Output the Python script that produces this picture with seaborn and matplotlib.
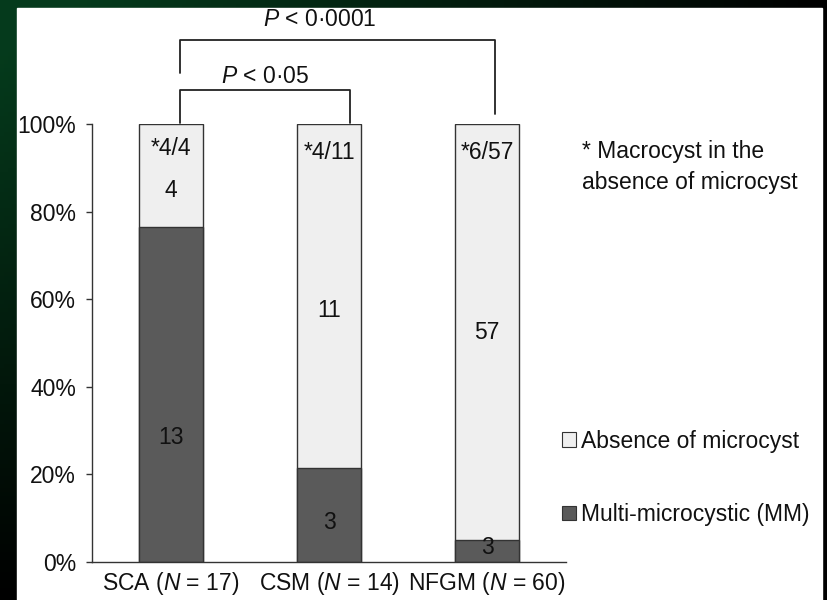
import numpy as np
import pandas as pd
import seaborn as sns
import matplotlib.pyplot as plt
from matplotlib.patches import Patch, Rectangle

# data
groups = ['SCA', 'CSM', 'NFGM']
group_n = [17, 14, 60]
mm_counts = [13, 3, 3]           # multi-microcystic
absent_counts = [4, 11, 57]      # absence of microcyst
macro_labels = ['*4/4', '*4/11', '*6/57']
tick_labels = [f'{g} ($\\it{{N}}$ = {n})' for g, n in zip(groups, group_n)]

sns.set_style('white')
plt.rcParams['font.family'] = ['Liberation Sans', 'DejaVu Sans']
plt.rcParams['mathtext.fontset'] = 'custom'
plt.rcParams['mathtext.rm'] = 'Liberation Sans'
plt.rcParams['mathtext.it'] = 'Liberation Sans:italic'
plt.rcParams['text.color'] = '#111111'
plt.rcParams['xtick.color'] = '#111111'
plt.rcParams['ytick.color'] = '#111111'

dark = '#5a5a5a'
light = '#efefef'
edge = '#333333'
fs = 16.5

df = pd.DataFrame({'group': groups, 'mm': mm_counts, 'absent': absent_counts})
df['total'] = df['mm'] + df['absent']
df['mm_pct'] = df['mm'] / df['total'] * 100
df['all_pct'] = (df['mm'] + df['absent']) / df['total'] * 100

fig = plt.figure(figsize=(8.27, 6), dpi=100)

# dark green gradient backdrop + white panel
bg = fig.add_axes([0, 0, 1, 1], zorder=-10)
xx, yy = np.meshgrid(np.linspace(0, 1, 200), np.linspace(0, 1, 150))
f = np.clip((1 - xx) * (1 - yy) * 1.1, 0, 1)
img = np.dstack([0.02 * f, 0.23 * f, 0.11 * f])
bg.imshow(img, extent=[0, 1, 0, 1], aspect='auto', origin='upper')
bg.set_axis_off()
bg.add_patch(Rectangle((17 / 827, 0), 805 / 827, 592 / 600, color='white',
                       transform=bg.transAxes))

ax = fig.add_axes([92 / 827, 38 / 600, 474 / 827, 438 / 600])
ax.patch.set_alpha(0)

sns.barplot(data=df, x='group', y='all_pct', color=light, saturation=1,
            width=0.405, edgecolor=edge, linewidth=1, ax=ax)
sns.barplot(data=df, x='group', y='mm_pct', color=dark, saturation=1,
            width=0.405, edgecolor=edge, linewidth=1, ax=ax)

ax.set_xlim(-0.5, 2.5)
ax.set_ylim(0, 100)
ax.set_xlabel(None)
ax.set_ylabel(None)
ax.set_yticks(range(0, 101, 20))
ax.set_yticklabels([f'{v}%' for v in range(0, 101, 20)], fontsize=fs)
ax.set_xticks(range(3))
ax.set_xticklabels(tick_labels, fontsize=fs)
ax.set_xticks([-0.5, 0.5, 1.5, 2.5], minor=True)
ax.tick_params(axis='x', which='major', length=0, pad=6)
ax.tick_params(axis='x', which='minor', length=5, width=1, color=edge, direction='out')
ax.tick_params(axis='y', length=4.5, width=1, color=edge, direction='out', pad=7, left=True)
for s in ['top', 'right']:
    ax.spines[s].set_visible(False)
for s in ['left', 'bottom']:
    ax.spines[s].set_color(edge)
    ax.spines[s].set_linewidth(1)

# labels inside bars
macro_y = [94.5, 93.6, 93.6]
absent_y = [84.9, 57.5, 52.3]
mm_y = [28.5, 9.1, 3.2]
for i in range(3):
    ax.text(i, macro_y[i], macro_labels[i], ha='center', va='center', fontsize=fs)
    ax.text(i, absent_y[i], str(absent_counts[i]), ha='center', va='center', fontsize=fs)
    ax.text(i, mm_y[i], str(mm_counts[i]), ha='center', va='center', fontsize=fs)

# significance brackets
lk = dict(color='#222222', lw=1.3, clip_on=False)
ax.plot([0.057, 0.057, 1.133, 1.133], [100.2, 107.8, 107.8, 100.2], **lk)
ax.text(0.595, 110.8, '$\\it{P}$ < 0·05', ha='center', va='center', fontsize=fs)
ax.plot([0.057, 0.057, 2.05, 2.05], [111.6, 119.2, 119.2, 102.3], **lk)
ax.text(0.943, 123.8, '$\\it{P}$ < 0·0001', ha='center', va='center', fontsize=fs)

# footnote and legend
fig.text(582 / 827, 1 - 167 / 600, '* Macrocyst in the\nabsence of microcyst',
         ha='left', va='center', fontsize=fs, linespacing=1.45)
handles = [Patch(facecolor=light, edgecolor=edge, linewidth=0.8),
           Patch(facecolor=dark, edgecolor=edge, linewidth=0.8)]
fig.legend(handles, ['Absence of microcyst', 'Multi-microcystic (MM)'],
           loc='center left', bbox_to_anchor=(562 / 827, 1 - 478 / 600),
           frameon=False, fontsize=fs, handlelength=0.6, handleheight=0.6,
           handletextpad=0.25, labelspacing=2.2, borderpad=0, borderaxespad=0)

fig.savefig('out.png', dpi=100)
